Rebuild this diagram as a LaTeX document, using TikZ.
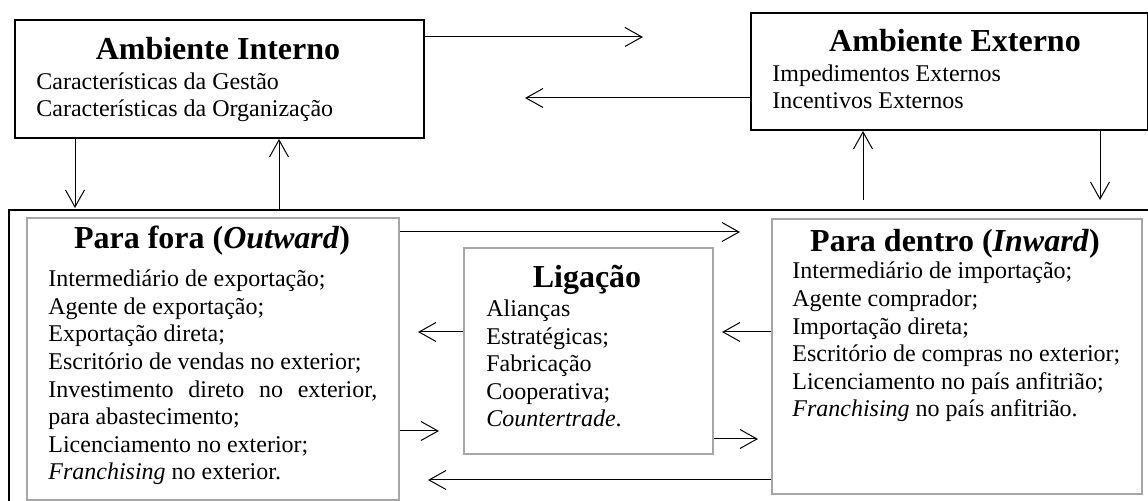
\documentclass[tikz,border=0pt]{standalone}
\usepackage{fontspec}
\setmainfont{Liberation Serif}
\usetikzlibrary{arrows.meta}
\definecolor{boxgray}{RGB}{166,166,166}
\tikzset{
  envbox/.style={draw,line width=1pt,anchor=north west,inner sep=0pt},
  modebox/.style={draw=boxgray,line width=1pt,anchor=north west,inner sep=0pt},
  boxtitle/.style={anchor=base,inner sep=0pt,font=\fontsize{16}{19}\selectfont\bfseries},
  boxtext/.style={anchor=base west,inner sep=0pt,align=left,font=\fontsize{12}{13.8}\selectfont},
  flow/.style={-{Straight Barb[length=8.5pt,width=9.5pt]},line width=0.5pt}
}

\begin{document}
\begin{tikzpicture}[x=0.5pt,y=-0.5pt]
\useasboundingbox (0,0) rectangle (1148,501);
% ambientes (texto: base da ultima linha)
\node[envbox,minimum width=204.5pt,minimum height=59pt] (intern) at (14,19) {};
\node[envbox,minimum width=198.5pt,minimum height=58.5pt] (extern) at (750,12) {};
\node[boxtitle] (intern-title) at (218,60) {Ambiente Interno};
\node[boxtext] (intern-text) at (36,117) {Características da Gestão\\Características da Organização};
\node[boxtitle] (extern-title) at (955,52) {Ambiente Externo};
\node[boxtext] (extern-text) at (772,109) {Impedimentos Externos\\Incentivos Externos};
% moldura de baixo
\draw[line width=1pt] (1148,210) -- (9,210) -- (9,501);
% modos
\node[modebox,minimum width=186pt,minimum height=141pt] (outward) at (26,217) {};
\node[modebox,minimum width=124.5pt,minimum height=103pt] (link) at (463,247) {};
\node[modebox,minimum width=185pt,minimum height=137.5pt] (inward) at (771,218) {};
\node[boxtitle] (outward-title) at (212,249) {Para fora (\textit{Outward})};
\node[boxtext] (outward-text) at (48,480) {Intermediário de exportação;\\
  Agente de exportação;\\
  Exportação direta;\\
  Escritório de vendas no exterior;\\
  \makebox[164.5pt][s]{Investimento direto no exterior,}\\
  para abastecimento;\\
  Licenciamento no exterior;\\
  \textit{Franchising} no exterior.};
\node[boxtitle] (link-title) at (587,288) {Ligação};
\node[boxtext] (link-text) at (486,427) {Alianças\\
  Estratégicas;\\
  Fabricação\\
  Cooperativa;\\
  \textit{Countertrade}.};
\node[boxtitle] (inward-title) at (955,252) {Para dentro (\textit{Inward})};
\node[boxtext] (inward-text) at (792,417) {Intermediário de importação;\\
  Agente comprador;\\
  Importação direta;\\
  Escritório de compras no exterior;\\
  Licenciamento no país anfitrião;\\
  \textit{Franchising} no país anfitrião.};
% setas
\coordinate (int-ext) at (643,37);
\coordinate (ext-int) at (525,98);
\coordinate (int-down) at (75,208);
\coordinate (int-up) at (279,210);
\coordinate (ext-up) at (863,200);
\coordinate (ext-down) at (1100,200);
\coordinate (out-in) at (740,232);
\coordinate (link-out) at (418,332);
\coordinate (in-link) at (722,332);
\coordinate (out-link) at (439,431);
\coordinate (link-in) at (758,439);
\coordinate (in-out) at (428,480);
\draw[flow] (intern.east |- int-ext) -- (int-ext);
\draw[flow] (extern.west |- ext-int) -- (ext-int);
\draw[flow] (intern.south -| int-down) -- (int-down);
\draw[flow] (int-up) -- (int-up |- intern.south);
\draw[flow] (ext-up) -- (ext-up |- extern.south);
\draw[flow] (extern.south -| ext-down) -- (ext-down);
\draw[flow] (outward.east |- out-in) -- (out-in);
\draw[flow] (link.west |- link-out) -- (link-out);
\draw[flow] (inward.west |- in-link) -- (in-link);
\draw[flow] (outward.east |- out-link) -- (out-link);
\draw[flow] (link.east |- link-in) -- (link-in);
\draw[flow] (inward.west |- in-out) -- (in-out);
\end{tikzpicture}
\end{document}
